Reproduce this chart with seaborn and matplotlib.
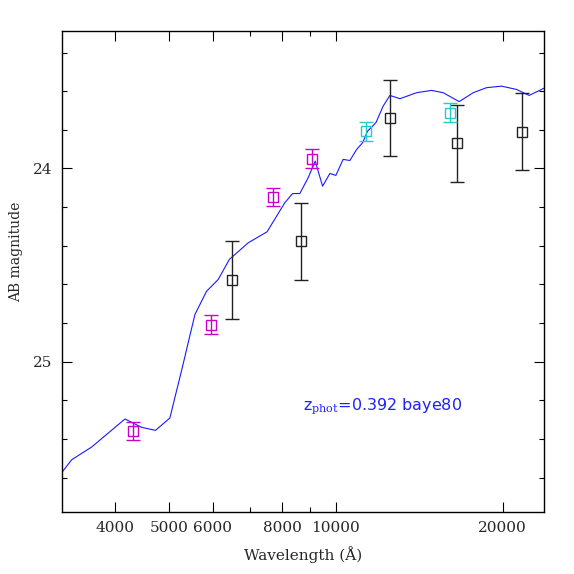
import numpy as np
import pandas as pd
import seaborn as sns
import matplotlib
matplotlib.use('Agg')
import matplotlib.pyplot as plt
from matplotlib.ticker import FixedLocator, NullFormatter

# model SED (blue line)
model_wl = [3214, 3342, 3631, 4169, 4467, 4732, 5023, 5296, 5446, 5574, 5848, 6138,
            6430, 6953, 7519, 8091, 8359, 8614, 8917, 9182, 9467, 9758, 10004, 10311,
            10602, 10902, 11176, 11411, 11813, 12175, 12519, 13050, 13982, 14884,
            15616, 16690, 17688, 18692, 19892, 21173, 22309, 23490, 23700]
model_mag = [25.571, 25.508, 25.442, 25.297, 25.340, 25.356, 25.292, 25.024, 24.877,
             24.756, 24.636, 24.575, 24.471, 24.385, 24.328, 24.178, 24.130, 24.130,
             24.048, 23.962, 24.092, 24.026, 24.036, 23.953, 23.959, 23.902, 23.867,
             23.807, 23.763, 23.677, 23.622, 23.639, 23.608, 23.596, 23.608, 23.654,
             23.608, 23.582, 23.574, 23.591, 23.622, 23.591, 23.585]

# photometry
mag_wl = [4315, 5957, 7713, 9067]
mag_mag = [25.357, 24.808, 24.149, 23.950]
mag_err = [0.047, 0.048, 0.048, 0.050]

cyan_wl = [11331, 16066]
cyan_mag = [23.807, 23.711]
cyan_err = [0.049, 0.049]

blk_wl = [6507, 8643, 12533, 16510, 21619]
blk_mag = [24.577, 24.378, 23.739, 23.870, 23.810]
blk_err = [0.20, 0.20, 0.198, 0.20, 0.20]

sns.set_style('ticks')
plt.rcParams['font.family'] = ['DejaVu Serif']
plt.rcParams['mathtext.fontset'] = 'dejavuserif'

fig = plt.figure(figsize=(5.74, 5.74), dpi=100)
ax = fig.add_axes([0.1085, 0.1075, 0.8387, 0.838])

model = pd.DataFrame({'wl': model_wl, 'mag': model_mag})
sns.lineplot(data=model, x='wl', y='mag', color='#1a1aff', lw=0.8, ax=ax)

for wl, m, e, c in [(blk_wl, blk_mag, blk_err, '#222222'),
                    (mag_wl, mag_mag, mag_err, '#cc00cc'),
                    (cyan_wl, cyan_mag, cyan_err, '#22cccc')]:
    ax.errorbar(wl, m, yerr=e, fmt='s', mfc='none', mec=c, ecolor=c,
                ms=7, mew=1.0, elinewidth=1.0, capsize=4.8, capthick=1.0)

ax.set_xscale('log')
ax.set_xlim(3214, 23700)
ax.set_ylim(25.78, 23.29)

ax.xaxis.set_major_locator(FixedLocator([4000, 5000, 6000, 8000, 10000, 20000]))
ax.xaxis.set_minor_locator(FixedLocator([7000, 9000]))
ax.xaxis.set_minor_formatter(NullFormatter())
ax.set_xticklabels(['4000', '5000', '6000', '8000', '10000', '20000'])
ax.yaxis.set_major_locator(FixedLocator([24, 25]))
ax.yaxis.set_minor_locator(FixedLocator([23.4, 23.6, 23.8, 24.2, 24.4, 24.6, 24.8,
                                         25.2, 25.4, 25.6]))

ax.tick_params(which='both', direction='in', top=True, right=True, labelsize=11,
               color='black', width=0.8)
ax.tick_params(which='major', length=7.5)
ax.tick_params(axis='x', which='major', pad=6)
ax.tick_params(axis='y', which='major', pad=7)
ax.tick_params(which='minor', length=3.8)
for s in ax.spines.values():
    s.set_linewidth(1.0)
    s.set_color('black')

ax.set_xlabel('Wavelength (Å)', fontsize=11)
ax.xaxis.set_label_coords(0.5, -0.071)
ax.set_ylabel('AB magnitude', fontsize=10)
ax.yaxis.set_label_coords(-0.082, 0.541)

ax.text(0.5, 0.215, r'z$_{\rm phot}$=0.392 baye80', transform=ax.transAxes,
        color='#2020ff', fontsize=11.5, family='DejaVu Sans', ha='left', va='baseline')

fig.savefig('out.png', dpi=100)
